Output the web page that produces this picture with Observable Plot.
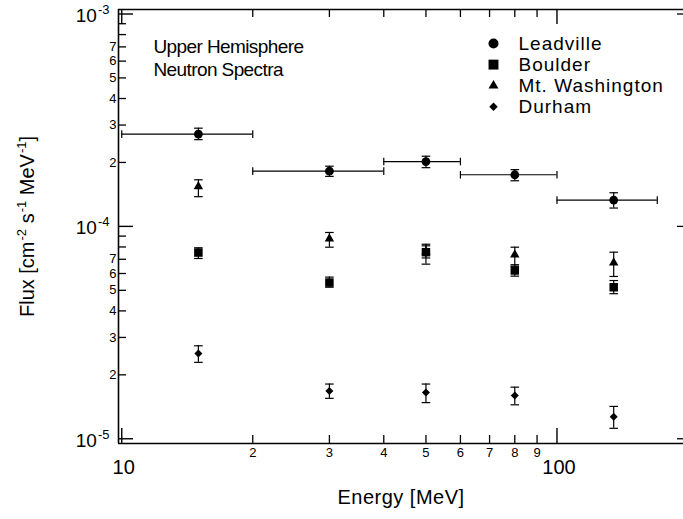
<!DOCTYPE html>
<html>
<head>
<meta charset="utf-8">
<script src="https://cdn.jsdelivr.net/npm/d3@7"></script>
<script src="https://cdn.jsdelivr.net/npm/@observablehq/plot@0.6"></script>
<style>
  html, body { margin: 0; padding: 0; background: #fff; }
  #chart svg { display: block; }
</style>
</head>
<body>
<div id="chart"></div>
<script>
// ---------- data ----------
const energies = [15, 30, 50, 80, 135];
const seriesNames = ["Leadville", "Boulder", "Mt. Washington", "Durham"];

const leadville   = [2.72e-4, 1.82e-4, 2.02e-4, 1.75e-4, 1.33e-4];
const leadvilleLo = [2.56e-4, 1.72e-4, 1.89e-4, 1.64e-4, 1.22e-4];
const leadvilleHi = [2.90e-4, 1.92e-4, 2.14e-4, 1.85e-4, 1.44e-4];
const binLo = [10, 20, 40, 60, 100];
const binHi = [20, 40, 60, 100, 170];

const boulder   = [7.53e-5, 5.44e-5, 7.56e-5, 6.20e-5, 5.17e-5];
const boulderLo = [7.06e-5, 5.17e-5, 6.64e-5, 5.83e-5, 4.82e-5];
const boulderHi = [7.93e-5, 5.77e-5, 8.24e-5, 6.60e-5, 5.56e-5];

const mtWash   = [1.54e-4, 8.74e-5, 7.60e-5, 7.35e-5, 6.74e-5];
const mtWashLo = [1.38e-4, 7.98e-5, 7.10e-5, 6.50e-5, 5.81e-5];
const mtWashHi = [1.657e-4, 9.36e-5, 8.10e-5, 7.98e-5, 7.56e-5];

const durham   = [2.52e-5, 1.68e-5, 1.65e-5, 1.60e-5, 1.27e-5];
const durhamLo = [2.29e-5, 1.55e-5, 1.48e-5, 1.445e-5, 1.12e-5];
const durhamHi = [2.74e-5, 1.81e-5, 1.81e-5, 1.75e-5, 1.42e-5];

const xMajorTicks = [10, 100];
const xMajorLabels = ["10", "100"];
const xMinorTicks = [20, 30, 40, 50, 60, 70, 80, 90];
const xMinorLabels = ["2", "3", "4", "5", "6", "7", "8", "9"];
const yMajorTicks = [1e-5, 1e-4, 1e-3];
const yMajorLabels = ["10^{-5}", "10^{-4}", "10^{-3}"];
const yMinorTicks = [2e-5,3e-5,4e-5,5e-5,6e-5,7e-5,8e-5,9e-5,2e-4,3e-4,4e-4,5e-4,6e-4,7e-4,8e-4,9e-4];
const yMinorLabels = ["2","3","4","5","6","7","","","2","3","4","5","6","7","",""];

const xTitle = "Energy [MeV]";
const yTitle = "Flux [cm^{-2} s^{-1} MeV^{-1}]";
const note = "Upper Hemisphere\nNeutron Spectra";

// ---------- layout ----------
const W = 683, H = 519;
const mL = 118, mR = 0, mT = 9, mB = 76;
const FW = W - mL - mR, FH = H - mT - mB;
const xDomain = [9.83, 195.3];
const yDomain = [9.5e-6, 1.05e-3];
const FONT = "'Liberation Sans', Arial, Helvetica, sans-serif";

const seriesData = [
  {name: seriesNames[0], y: leadville, lo: leadvilleLo, hi: leadvilleHi, symbol: "circle", r: 4.4, lr: 5.0},
  {name: seriesNames[1], y: boulder, lo: boulderLo, hi: boulderHi, symbol: "square", r: 4.8, lr: 5.6},
  {name: seriesNames[2], y: mtWash, lo: mtWashLo, hi: mtWashHi, symbol: "triangle", r: 3.5, lr: 3.7},
  {name: seriesNames[3], y: durham, lo: durhamLo, hi: durhamHi, symbol: "diamond2", r: 3.6, lr: 3.8}
];

const rows = seriesData.flatMap(s => energies.map((e, i) => ({site: s.name, x: e, y: s.y[i], lo: s.lo[i], hi: s.hi[i]})));
const leadRows = energies.map((e, i) => ({x: e, y: leadville[i], x1: binLo[i], x2: binHi[i]}));

// custom cap symbols
const hCap = {draw(ctx) { ctx.moveTo(-4.3, 0); ctx.lineTo(4.3, 0); }};
const vCap = {draw(ctx) { ctx.moveTo(0, -3.8); ctx.lineTo(0, 3.8); }};

const drawOrder = [2, 0, 1, 3]; // Mt. Washington under Boulder
const marks = [
  // frame (left, bottom, top)
  Plot.ruleX([xDomain[0]], {x: d => d, strokeWidth: 1.6}),
  Plot.ruleY([yDomain[0], yDomain[1]], {y: d => d, strokeWidth: 1.6}),
  // y ticks (left, inward)
  Plot.ruleY(yMajorTicks, {y: d => d, insetRight: FW - 15, strokeWidth: 1.4}),
  Plot.ruleY(yMinorTicks, {y: d => d, insetRight: FW - 8, strokeWidth: 1.3}),
  // right-side mirrored major ticks (visible part)
  Plot.ruleY(yMajorTicks, {y: d => d, insetLeft: FW - 6, strokeWidth: 1.3}),
  // x ticks bottom
  Plot.ruleX(xMajorTicks, {x: d => d, insetTop: FH - 15, strokeWidth: 1.4}),
  Plot.ruleX(xMinorTicks, {x: d => d, insetTop: FH - 8, strokeWidth: 1.3}),
  // x ticks top
  Plot.ruleX(xMajorTicks, {x: d => d, insetBottom: FH - 15, strokeWidth: 1.4}),
  Plot.ruleX(xMinorTicks, {x: d => d, insetBottom: FH - 8, strokeWidth: 1.3}),
  // tick labels
  Plot.text(yMinorTicks, {y: d => d, text: (d, i) => yMinorLabels[i], frameAnchor: "left", textAnchor: "end", dx: -2, fontSize: 13}),
  Plot.text(yMajorTicks, {y: d => d, text: (d, i) => yMajorLabels[i], frameAnchor: "left", textAnchor: "end", dx: -9, dy: 2, fontSize: 19}),
  Plot.text(xMinorTicks, {x: d => d, text: (d, i) => xMinorLabels[i], frameAnchor: "bottom", lineAnchor: "top", dy: 4, fontSize: 13}),
  Plot.text(xMajorTicks, {x: d => d, text: (d, i) => xMajorLabels[i], frameAnchor: "bottom", lineAnchor: "middle", dy: 24, dx: 2, fontSize: 20}),
  // axis titles
  Plot.text([xTitle], {text: d => d, frameAnchor: "bottom", textAnchor: "middle", lineAnchor: "middle", dy: 54, fontSize: 20}),
  Plot.text([yTitle], {text: d => d, frameAnchor: "left", textAnchor: "middle", rotate: -90, lineAnchor: "middle", dx: -91, fontSize: 20}),
  // annotation
  Plot.text([note], {text: d => d, frameAnchor: "top-left", textAnchor: "start", lineAnchor: "top", dx: 35, dy: 27, fontSize: 19, lineHeight: 1.23}),
  // Leadville horizontal bins
  Plot.ruleY(leadRows, {y: "y", x1: "x1", x2: "x2", strokeWidth: 1.2}),
  Plot.dot(leadRows, {x: "x1", y: "y", symbol: vCap, stroke: "black", fill: "none", strokeWidth: 1.2}),
  Plot.dot(leadRows, {x: "x2", y: "y", symbol: vCap, stroke: "black", fill: "none", strokeWidth: 1.2}),
];

for (const k of drawOrder) {
  const s = seriesData[k];
  const d = rows.filter(r => r.site === s.name);
  marks.push(
    Plot.ruleX(d, {x: "x", y1: "lo", y2: "hi", strokeWidth: 1.2}),
    Plot.dot(d, {x: "x", y: "lo", symbol: hCap, stroke: "black", fill: "none", strokeWidth: 1.2}),
    Plot.dot(d, {x: "x", y: "hi", symbol: hCap, stroke: "black", fill: "none", strokeWidth: 1.2}),
    Plot.dot(d, {x: "x", y: "y", symbol: s.symbol, r: s.r, fill: "black", stroke: "none"})
  );
}

// legend
seriesData.forEach((s, i) => {
  marks.push(
    Plot.dot([s.name], {frameAnchor: "top-left", dx: 375, dy: 34 + 21.1 * i, symbol: s.symbol, r: s.lr, fill: "black", stroke: "none"}),
    Plot.text([s.name], {text: d => d, frameAnchor: "top-left", textAnchor: "start", lineAnchor: "middle", dx: 400, dy: 34 + 21.1 * i, fontSize: 19})
  );
});

const chart = Plot.plot({
  width: W, height: H,
  marginLeft: mL, marginRight: mR, marginTop: mT, marginBottom: mB,
  style: {fontFamily: FONT, color: "black", background: "white", overflow: "hidden"},
  x: {type: "log", domain: xDomain, axis: null},
  y: {type: "log", domain: yDomain, axis: null},
  marks
});

// letter spacing adjustments (matching the reference's text widths)
const spacing = new Map([
  ["Leadville", "1px"], ["Boulder", "1px"], ["Mt. Washington", "1px"], ["Durham", "1px"],
  ["Upper HemisphereNeutron Spectra", "-0.6px"],
  [xTitle, "0.5px"]
]);

// superscripts: convert ^{...} into tspans
d3.select(chart).selectAll("text").each(function () {
  const txt = this.textContent;
  if (spacing.has(txt)) this.style.letterSpacing = spacing.get(txt);
  if (!txt.includes("^{")) return;
  const fs = parseFloat(getComputedStyle(this).fontSize) || 19;
  const shift = Math.round(fs * 0.42);
  this.textContent = "";
  const parts = txt.split(/(\^\{[^}]*\})/);
  let raised = false;
  for (const p of parts) {
    if (!p) continue;
    const t = document.createElementNS("http://www.w3.org/2000/svg", "tspan");
    if (p.startsWith("^{")) {
      t.textContent = p.slice(2, -1);
      t.setAttribute("font-size", Math.round(fs * 0.66));
      t.setAttribute("dy", -shift);
      t.setAttribute("dx", 1);
      raised = true;
    } else {
      t.textContent = p;
      if (raised) { t.setAttribute("dy", shift); raised = false; }
    }
    this.appendChild(t);
  }
});

document.getElementById("chart").appendChild(chart);
</script>
</body>
</html>
